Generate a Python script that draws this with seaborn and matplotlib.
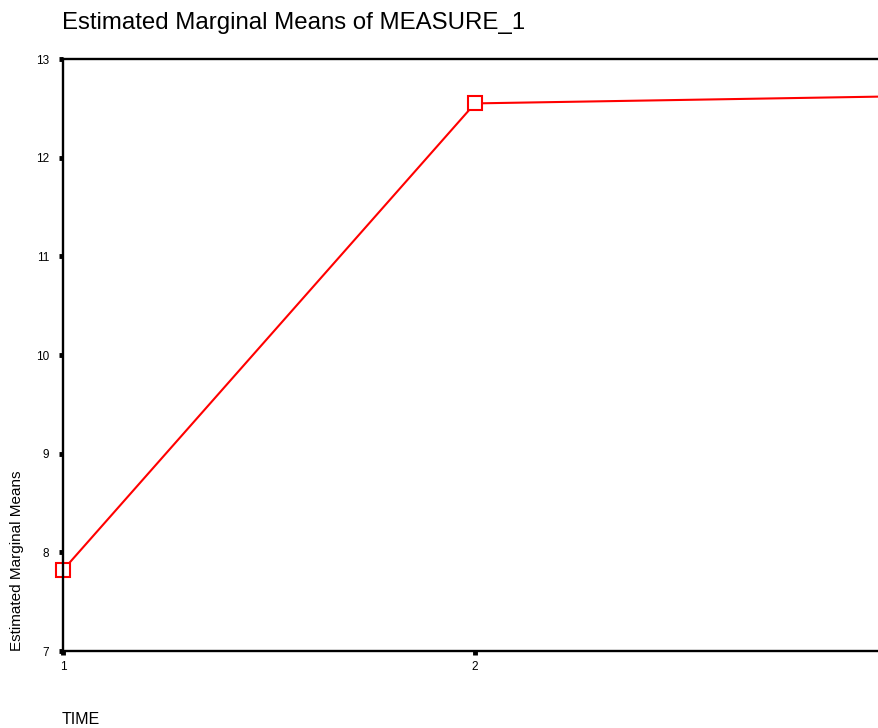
import matplotlib
matplotlib.use("Agg")
import matplotlib.pyplot as plt
import seaborn as sns
import pandas as pd

# values
time = [1, 2, 3]
means = [7.82, 12.55, 12.62]
x_ticks = [1, 2]
y_ticks = [7, 8, 9, 10, 11, 12, 13]

df = pd.DataFrame({"TIME": time, "mean": means})

sns.set_style("white")
plt.rcParams['font.family'] = ['Liberation Sans', 'DejaVu Sans']
plt.rcParams['text.color'] = 'black'

fig = plt.figure(figsize=(8.79, 7.28), dpi=100)
# the plot area runs past the right edge, as in the reference
ax = fig.add_axes([63 / 879, 77 / 728, (887 - 63) / 879, (651 - 59) / 728])

sns.lineplot(data=df, x="TIME", y="mean", ax=ax, color="red", linewidth=1.5,
             marker="s", markersize=10, markerfacecolor="white",
             markeredgecolor="red", markeredgewidth=1.5, clip_on=False)

ax.set_xlim(1, 3)
ax.set_ylim(7, 13)
ax.set_xticks(x_ticks)
ax.set_yticks(y_ticks)
ax.tick_params(axis="both", direction="out", length=3, width=3.5,
               labelsize=8.5, colors="black")
ax.tick_params(axis="y", left=True, pad=7)
ax.tick_params(axis="x", bottom=True, pad=4)

for side in ["left", "top", "bottom", "right"]:
    ax.spines[side].set_color("black")
    ax.spines[side].set_linewidth(1.7)

ax.set_xlabel("")
ax.set_ylabel("")
fig.text(62 / 879, 1 - 23 / 728, "Estimated Marginal Means of MEASURE_1",
         fontsize=17.3, ha="left", va="center")
fig.text(17 / 879, 1 - 651 / 728, "Estimated Marginal Means",
         fontsize=11, rotation=90, ha="center", va="bottom")
fig.text(62 / 879, 1 - 720 / 728, "TIME", fontsize=11.5, ha="left", va="center")

fig.savefig("out.png", dpi=100)
